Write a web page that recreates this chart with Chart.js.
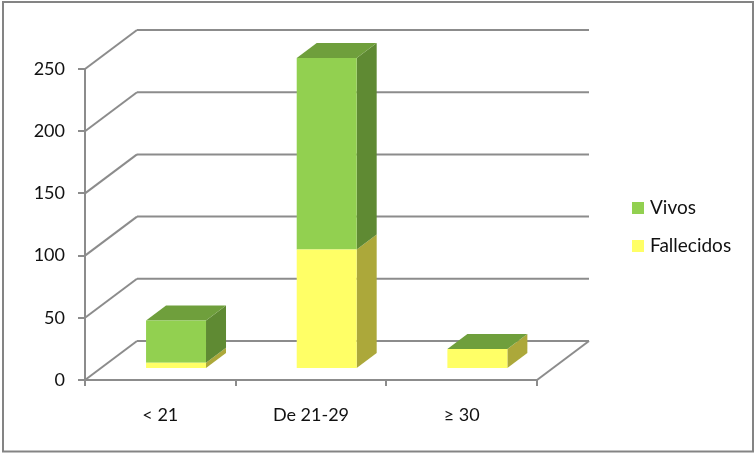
<!DOCTYPE html>
<html>
<head>
<meta charset="utf-8">
<script src="https://cdn.jsdelivr.net/npm/chart.js@4"></script>
<style>
    html, body { margin: 0; padding: 0; background: #fff; }
    #wrap { position: absolute; left: 0; top: 0; width: 755px; height: 453px; }
</style>
</head>
<body>
<div id="wrap"><canvas id="chart" width="755" height="453"></canvas></div>
<script>
// Chart data
const categories = ['< 21', 'De 21-29', '≥ 30'];
const fallecidos = [5, 96, 16];
const vivos = [34, 154, 0];
const yTicks = [0, 50, 100, 150, 200, 250];

const GRID = '#8c8c8c';
const TEXT = '#111';
const FONT = 'Lato';
// wall depth, bar depth and how far the bars sit inside the floor
const WALL = { dx: 52, dy: -39 };
const BAR = { dx: 20, dy: -15 };
const INSET = { dx: 15.7, dy: -11 };

function line(ctx, x1, y1, x2, y2) {
    ctx.beginPath();
    ctx.moveTo(x1, y1);
    ctx.lineTo(x2, y2);
    ctx.stroke();
}

function poly(ctx, points, color) {
    ctx.fillStyle = color;
    ctx.beginPath();
    points.forEach((p, i) => i ? ctx.lineTo(p[0], p[1]) : ctx.moveTo(p[0], p[1]));
    ctx.closePath();
    ctx.fill();
}

// Back wall, floor and the 3D sides of the bars
const threeD = {
    id: 'threeD',
    beforeDatasetsDraw(chart) {
        const ctx = chart.ctx;
        const area = chart.chartArea;
        const y = chart.scales.y;
        ctx.save();
        ctx.strokeStyle = GRID;
        ctx.lineWidth = 2;
        yTicks.forEach(v => {
            const py = y.getPixelForValue(v);
            line(ctx, area.left, py, area.left + WALL.dx, py + WALL.dy);
            line(ctx, area.left + WALL.dx, py + WALL.dy, area.right + WALL.dx, py + WALL.dy);
        });
        line(ctx, area.right, area.bottom, area.right + WALL.dx, area.bottom + WALL.dy);
        ctx.restore();

        // side faces first, then the top face in the colour of the upper series
        ctx.save();
        const sideColors = ['#aca83a', '#5f8a33'];
        chart.data.datasets.forEach((ds, d) => {
            chart.getDatasetMeta(d).data.forEach(bar => {
                const right = bar.x + bar.width / 2 + INSET.dx;
                const top = bar.y + INSET.dy;
                const base = bar.base + INSET.dy;
                if (base - top < 0.5) return;
                poly(ctx, [[right, top], [right + BAR.dx, top + BAR.dy],
                    [right + BAR.dx, base + BAR.dy], [right, base]], sideColors[d]);
            });
        });
        const last = chart.data.datasets.length - 1;
        chart.getDatasetMeta(last).data.forEach(bar => {
            const left = bar.x - bar.width / 2 + INSET.dx;
            const right = bar.x + bar.width / 2 + INSET.dx;
            const top = bar.y + INSET.dy;
            poly(ctx, [[left, top], [left + BAR.dx, top + BAR.dy],
                [right + BAR.dx, top + BAR.dy], [right, top]], '#6f9f3c');
        });
        ctx.restore();

        // front faces are the library's own bars, moved in from the axis
        ctx.save();
        ctx.translate(INSET.dx, INSET.dy);
    },
    afterDatasetsDraw(chart) {
        chart.ctx.restore();
    }
};

// Legend to the right of the floor and the outer frame of the picture
const frame = {
    id: 'frame',
    afterDraw(chart) {
        const ctx = chart.ctx;
        ctx.save();
        ctx.font = '19px ' + FONT;
        ctx.textBaseline = 'middle';
        [1, 0].forEach((d, i) => {
            const ds = chart.data.datasets[d];
            const y = 208 + i * 38;
            ctx.fillStyle = ds.backgroundColor;
            ctx.fillRect(632, y - 6, 12, 12);
            ctx.fillStyle = TEXT;
            ctx.fillText(ds.label, 650, y);
        });
        ctx.strokeStyle = '#848484';
        ctx.lineWidth = 2;
        ctx.strokeRect(3, 2, 750, 449.5);
        ctx.restore();
    }
};

new Chart(document.getElementById('chart'), {
    type: 'bar',
    data: {
        labels: categories,
        datasets: [
            { label: 'Fallecidos', data: fallecidos, backgroundColor: '#ffff66', clip: false },
            { label: 'Vivos', data: vivos, backgroundColor: '#92d050', clip: false }
        ]
    },
    options: {
        responsive: false,
        animation: false,
        events: [],
        categoryPercentage: 1,
        barPercentage: 0.398,
        layout: { padding: { left: 0, right: 218, top: 69, bottom: 0 } },
        plugins: {
            tooltip: { enabled: false },
            title: { display: false },
            legend: { display: false }
        },
        scales: {
            x: {
                stacked: true,
                border: { color: GRID, width: 2 },
                grid: { drawOnChartArea: false, color: GRID, lineWidth: 2, tickLength: 6 },
                ticks: { color: TEXT, padding: 18, maxRotation: 0, font: { family: FONT, size: 18 } },
                afterFit(scale) { scale.height = 73; }
            },
            y: {
                stacked: true,
                min: 0,
                max: 250,
                afterBuildTicks(scale) { scale.ticks = yTicks.map(v => ({ value: v })); },
                border: { color: GRID, width: 2 },
                grid: { drawOnChartArea: false, color: GRID, lineWidth: 2, tickLength: 7 },
                ticks: { color: TEXT, padding: 13, font: { family: FONT, size: 18 } },
                afterFit(scale) { scale.width = 85; }
            }
        }
    },
    plugins: [threeD, frame]
});
</script>
</body>
</html>
